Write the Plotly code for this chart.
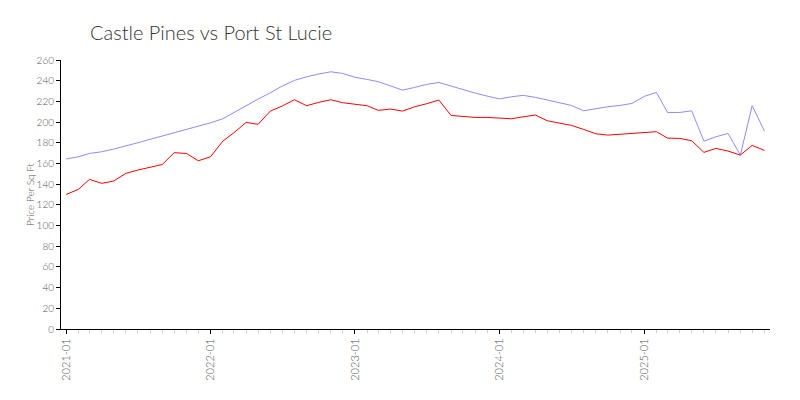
import plotly.graph_objects as go
import pandas as pd

months = pd.date_range("2021-01-01", "2025-11-01", freq="MS").strftime("%Y-%m-%d").tolist()

castle_pines = [164.3, 166.5, 169.7, 171.3, 173.9, 176.8, 180.0, 183.3, 186.5, 189.7, 192.9, 196.1,
                199.3, 203.2, 209.3, 215.8, 222.2, 228.3, 234.8, 240.3, 243.8, 246.4, 248.6, 247.0,
                243.3, 241.2, 239.0, 235.0, 230.9, 233.5, 236.4, 238.3, 234.8, 230.9, 228.0, 225.1,
                222.4, 224.5, 225.8, 223.9, 221.3, 219.0, 216.1, 210.9, 212.9, 214.8, 216.1, 218.0,
                224.8, 228.7, 209.3, 209.3, 210.9, 181.6, 185.8, 189.0, 168.1, 215.8, 191.3]

port_st_lucie = [130.0, 135.0, 144.6, 140.8, 143.0, 150.4, 153.6, 156.5, 159.0, 170.4, 169.7, 162.6,
                 166.5, 181.6, 189.7, 199.7, 197.8, 210.6, 215.5, 221.6, 215.8, 219.0, 221.6, 218.7,
                 217.0, 215.8, 211.3, 212.6, 210.6, 214.8, 217.7, 221.3, 206.4, 205.5, 204.5, 204.5,
                 203.6, 203.2, 205.1, 206.8, 201.3, 198.7, 196.8, 192.9, 188.7, 187.4, 188.4, 188.7,
                 189.7, 190.7, 184.5, 184.2, 182.0, 170.7, 174.6, 172.0, 168.1, 177.5, 172.6]

title_text = "Castle Pines vs Port St Lucie"
y_title = "Price Per Sq Ft"

fig = go.Figure()
fig.add_trace(go.Scatter(x=months, y=castle_pines, mode="lines", name="Castle Pines",
                         line=dict(color="rgb(140,140,255)", width=1)))
fig.add_trace(go.Scatter(x=months, y=port_st_lucie, mode="lines", name="Port St Lucie",
                         line=dict(color="rgb(255,0,0)", width=1)))

font_family = "Lato"
fig.update_layout(
    width=800, height=400,
    margin=dict(l=53, r=38, t=52, b=79),
    paper_bgcolor="white", plot_bgcolor="white",
    showlegend=False,
    title=dict(text=title_text, x=82/800, xanchor="left", y=1 - 25/400, yanchor="middle",
               font=dict(family=font_family, size=20, color="#333", weight=300)),
    font=dict(family=font_family, color="#555", weight=300),
)
fig.update_xaxes(
    range=["2020-12-19", "2025-11-15"], automargin=False,
    tickformat="%Y-%m", dtick="M12", tick0="2021-01-01",
    tickangle=-90, tickfont=dict(size=11, color="#555", weight=300),
    showline=True, linecolor="black", linewidth=1,
    ticks="outside", ticklen=4, tickcolor="black",
    showgrid=False, zeroline=False,
    minor=dict(dtick="M1", ticks="outside", ticklen=3, tickcolor="#ccc", showgrid=False),
)
fig.update_yaxes(
    range=[0, 260], dtick=20, automargin=False,
    tickfont=dict(size=10, color="#555", weight=300),
    showline=True, linecolor="black", linewidth=1,
    ticks="outside", ticklen=4, tickcolor="black",
    showgrid=False, zeroline=False,
    title=dict(text=y_title, font=dict(size=10, color="#555", weight=300), standoff=0),
)
fig.write_html("out.html")
